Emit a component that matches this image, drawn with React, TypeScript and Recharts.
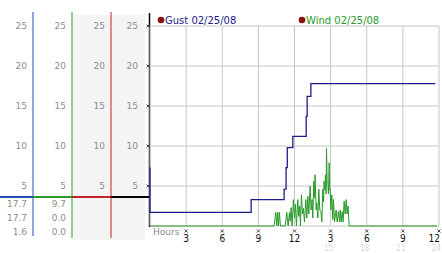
import { LineChart, Line, XAxis, YAxis, CartesianGrid } from "recharts";

// axis ticks
const hourTicks = [3, 6, 9, 12, 15, 18, 21, 24];
const hourLabels = ["3", "6", "9", "12", "3", "6", "9", "12"];
const pmLabels = ["", "", "", "", "15", "18", "21", "24"];
const speedTicks = [5, 10, 15, 20, 25];

// gust (step line)
const gustHours = [0, 0, 8.4, 11.14, 11.3, 11.4, 11.86, 12.97, 13.05, 13.36, 23.7];
const gustSpeeds = [7.3, 1.7, 3.3, 4.6, 7.3, 9.8, 11.2, 13.7, 16.2, 17.8, 17.8];

// wind (spiky line)
const windHours = [
  0, 10.3, 10.45, 10.53, 10.61, 10.67, 10.75, 10.83, 11.22, 11.36, 11.47, 11.58,
  11.64, 11.72, 11.8, 11.91, 12.0, 12.08, 12.16, 12.27, 12.36, 12.44, 12.49, 12.58,
  12.66, 12.74, 12.83, 12.94, 13.02, 13.11, 13.19, 13.3, 13.38, 13.46, 13.52, 13.6,
  13.66, 13.71, 13.8, 13.85, 13.94, 14.02, 14.1, 14.19, 14.27, 14.35, 14.41, 14.46,
  14.52, 14.57, 14.63, 14.66, 14.71, 14.77, 14.82, 14.88, 14.93, 14.96, 15.02, 15.1,
  15.18, 15.24, 15.32, 15.46, 15.54, 15.65, 15.74, 15.79, 15.87, 15.96, 16.04, 16.12,
  16.21, 16.29, 16.37, 16.45, 16.54, 23.85,
];
const windSpeeds = [
  0, 0, 1.7, 0, 1.7, 0, 1.7, 0, 0, 1.7, 0, 1.7,
  0.6, 2.3, 0, 3.3, 1.0, 2.7, 0, 3.3, 1.2, 2.5, 0, 3.9,
  1.5, 2.2, 0.5, 3.3, 1.0, 3.7, 1.5, 5.0, 2.0, 3.3, 1.0, 5.6,
  3.5, 6.4, 2.0, 2.9, 1.0, 4.6, 2.0, 1.8, 0.5, 4.6, 3.0, 5.6,
  4.5, 6.4, 4.0, 9.7, 5.5, 5.4, 4.0, 7.9, 4.5, 4.6, 2.0, 3.9,
  0.8, 3.3, 0.5, 2.0, 0.5, 1.8, 0.5, 2.0, 0.5, 1.8, 0.5, 3.1,
  1.5, 3.3, 1.5, 2.5, 0, 0,
];

const seriesNames = ["Gust 02/25/08", "Wind 02/25/08"];
const gustStats = ["17.7", "17.7", "1.6"];
const windStats = ["9.7", "0.0", "0.0"];

const gustData = gustHours.map((hour, i) => ({ hour, speed: gustSpeeds[i] }));
const windData = windHours.map((hour, i) => ({ hour, speed: windSpeeds[i] }));

const FONT = "'DejaVu Sans', Verdana, sans-serif";
const NARROW = "'Liberation Sans Narrow', 'DejaVu Sans Condensed', 'Liberation Sans', sans-serif";
const GRAY = "#8c8c8c";
const GUST = "#1c1c8c";
const WIND = "#2a9a2a";

function Glyph({ x, y }: { x: number; y: number }) {
  return (
    <path
      d={`M${x - 1.5},${y - 1.5}L${x + 1.5},${y + 1.5}M${x + 1.5},${y - 1.5}L${x - 1.5},${y + 1.5}`}
      stroke="#333"
      strokeWidth={0.9}
    />
  );
}

// the tick marks only sit on the scale next to the plot
function SpeedTick(props: any) {
  const { x, y, payload } = props;
  return (
    <g>
      <text x={x} y={y} dy="0.35em" textAnchor="end" fontSize={9} fontFamily={FONT} fill={GRAY}>
        {payload.value}
      </text>
      {x > 120 && <Glyph x={x + 10} y={y} />}
    </g>
  );
}

function HourTick(props: any) {
  const { x, y, payload } = props;
  const i = hourTicks.indexOf(payload.value);
  const last = i === hourTicks.length - 1;
  return (
    <g>
      <Glyph x={x} y={y + 5} />
      <text x={last ? x + 1 : x} y={y + 16} textAnchor={last ? "end" : "middle"} fontSize={10} fontFamily={NARROW} fill="#111">
        {hourLabels[i]}
      </text>
      <text x={last ? x + 2 : x - 2} y={y + 25} textAnchor={last ? "end" : "middle"} fontSize={8} fontFamily={NARROW} fill="#d6d6d6">
        {pmLabels[i]}
      </text>
    </g>
  );
}

export default function App() {
  const axisProps = {
    domain: [0, 25],
    ticks: speedTicks,
    axisLine: false,
    tickLine: false,
    tickSize: 0,
    tickMargin: 12,
    tick: SpeedTick,
  } as const;

  return (
    <div style={{ position: "absolute", left: 0, top: 0, width: 442, height: 253, background: "#fff" }}>
      {/* left panel chrome */}
      <svg width={442} height={253} style={{ position: "absolute", left: 0, top: 0 }}>
        <rect x={73} y={15} width={72} height={225} fill="#f4f4f4" />
        <line x1={33} y1={12} x2={33} y2={236} stroke="#2050b8" strokeWidth={1} />
        <line x1={72} y1={12} x2={72} y2={238} stroke="#2a9a2a" strokeWidth={1} />
        <line x1={111} y1={12} x2={111} y2={238} stroke="#c02424" strokeWidth={1} />
        <line x1={149.5} y1={13} x2={149.5} y2={227} stroke="#000" strokeWidth={1.5} />
        <line x1={0} y1={197} x2={33} y2={197} stroke="#2050b8" strokeWidth={2} />
        <line x1={33} y1={197} x2={72} y2={197} stroke="#2a9a2a" strokeWidth={2} />
        <line x1={72} y1={197} x2={111} y2={197} stroke="#c02424" strokeWidth={2} />
        <line x1={111} y1={197} x2={149} y2={197} stroke="#000" strokeWidth={2} />
      </svg>

      <div style={{ position: "absolute", left: 0, top: 0 }}>
        <LineChart width={442} height={253} margin={{ top: 26, right: 3, bottom: 0, left: 0 }}>
          <CartesianGrid yAxisId="main" stroke="#c6c6c6" strokeWidth={1} />
          <XAxis
            type="number"
            dataKey="hour"
            domain={[0, 24]}
            ticks={hourTicks}
            interval={0}
            height={27}
            axisLine={false}
            tickLine={false}
            tickSize={0}
            tickMargin={0}
            tick={HourTick}
          />
          <YAxis yAxisId="c1" width={33} {...axisProps} />
          <YAxis yAxisId="c2" width={39} {...axisProps} />
          <YAxis yAxisId="c3" width={39} {...axisProps} />
          <YAxis yAxisId="main" width={39} {...axisProps} />
          {/* reference copies so the side scales get their ticks */}
          <Line yAxisId="c1" data={gustData} dataKey="speed" stroke="none" dot={false} activeDot={false} isAnimationActive={false} />
          <Line yAxisId="c2" data={windData} dataKey="speed" stroke="none" dot={false} activeDot={false} isAnimationActive={false} />
          <Line yAxisId="c3" data={windData} dataKey="speed" stroke="none" dot={false} activeDot={false} isAnimationActive={false} />
          <Line yAxisId="main" data={windData} dataKey="speed" type="linear" stroke={WIND} strokeWidth={1} dot={false} isAnimationActive={false} />
          <Line yAxisId="main" data={gustData} dataKey="speed" type="stepAfter" stroke={GUST} strokeWidth={1.3} dot={false} isAnimationActive={false} />
        </LineChart>
      </div>

      {/* legend, stats, axis caption */}
      <svg width={442} height={253} style={{ position: "absolute", left: 0, top: 0, pointerEvents: "none" }}>
        <circle cx={161} cy={20} r={3.3} fill="#8b1010" />
        <text x={165} y={24} fontSize={10} fontFamily={FONT} fill={GUST}>{seriesNames[0]}</text>
        <circle cx={302} cy={20} r={3.3} fill="#8b1010" />
        <text x={306} y={24} fontSize={10} fontFamily={FONT} fill={WIND}>{seriesNames[1]}</text>
        {gustStats.map((s, i) => (
          <text key={"g" + i} x={27} y={207 + i * 14} textAnchor="end" fontSize={9} fontFamily={FONT} fill={GRAY}>{s}</text>
        ))}
        {windStats.map((s, i) => (
          <text key={"w" + i} x={66} y={207 + i * 14} textAnchor="end" fontSize={9} fontFamily={FONT} fill={GRAY}>{s}</text>
        ))}
        <text x={153} y={235} fontSize={9} fontFamily={FONT} fill={GRAY}>Hours</text>
      </svg>
    </div>
  );
}
